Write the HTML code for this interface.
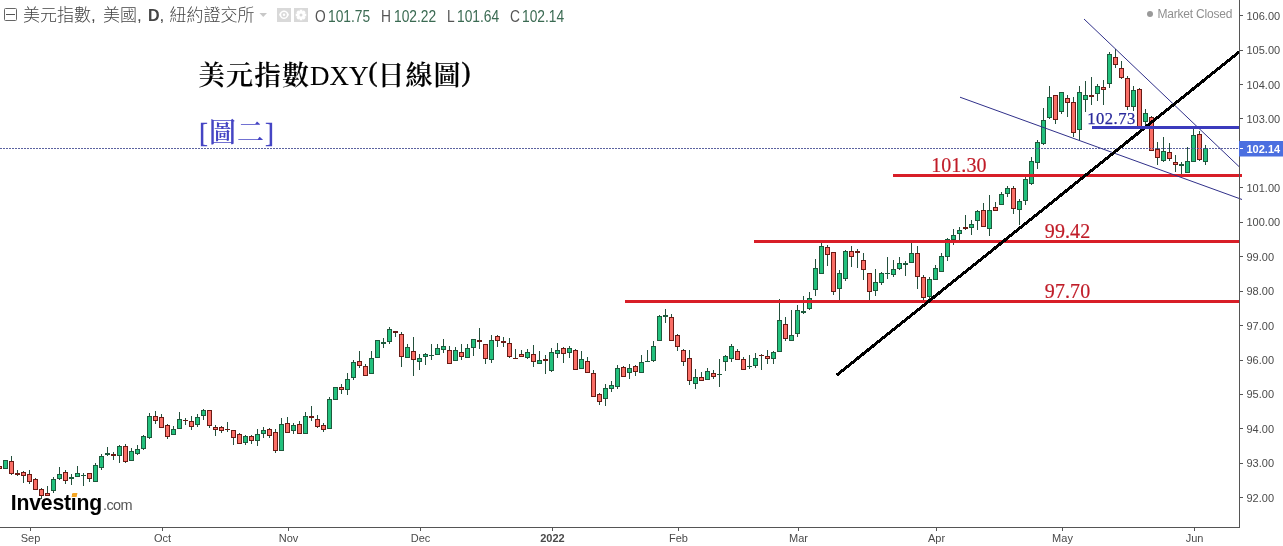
<!DOCTYPE html>
<html><head><meta charset="utf-8"><title>美元指數DXY(日線圖)</title>
<style>
html,body{margin:0;padding:0;background:#fff;}
body{width:1283px;height:546px;overflow:hidden;position:relative;font-family:"Liberation Sans","Noto Sans CJK TC","Noto Sans CJK SC",sans-serif;}
svg{position:absolute;left:0;top:0;}
.ax{font-family:"Liberation Sans",sans-serif;font-size:11px;fill:#4a4a4a;}
.t{position:absolute;white-space:nowrap;line-height:1;}
.hd{font-size:17px;color:#444;top:7px;font-weight:300;}
.oh{font-size:15.6px;color:#555;top:8.5px;transform-origin:0 0;transform:scaleX(0.885);}
.oh b{font-weight:normal;color:#3a6a52;}
.cj{letter-spacing:1px;font-weight:600;}
.pa{position:relative;top:-4.5px;-webkit-text-stroke:0.45px #000;}
.ser{font-family:"Liberation Serif","Noto Serif CJK TC","Noto Serif CJK SC",serif;}
</style></head><body>
<svg width="1283" height="546" viewBox="0 0 1283 546">
<g shape-rendering="crispEdges">
<rect x="-3" y="466" width="5" height="3" fill="#6a1a14"/>
<rect x="-2" y="467" width="3" height="1" fill="#fa6e66"/>
<rect x="3" y="460" width="5" height="9" fill="#1d5a3c"/>
<rect x="4" y="461" width="3" height="7" fill="#22c07d"/>
<rect x="11" y="456" width="1" height="19" fill="#24503c"/>
<rect x="9" y="461" width="5" height="13" fill="#6a1a14"/>
<rect x="10" y="462" width="3" height="11" fill="#fa6e66"/>
<rect x="17" y="470" width="1" height="6" fill="#24503c"/>
<rect x="15" y="473" width="5" height="2" fill="#6a1a14"/>
<rect x="23" y="471" width="1" height="12" fill="#24503c"/>
<rect x="21" y="472" width="5" height="4" fill="#6a1a14"/>
<rect x="22" y="473" width="3" height="2" fill="#fa6e66"/>
<rect x="29" y="470" width="1" height="14" fill="#24503c"/>
<rect x="27" y="474" width="5" height="8" fill="#6a1a14"/>
<rect x="28" y="475" width="3" height="6" fill="#fa6e66"/>
<rect x="35" y="478" width="1" height="12" fill="#24503c"/>
<rect x="33" y="479" width="5" height="11" fill="#6a1a14"/>
<rect x="34" y="480" width="3" height="9" fill="#fa6e66"/>
<rect x="41" y="488" width="1" height="11" fill="#24503c"/>
<rect x="39" y="489" width="5" height="7" fill="#6a1a14"/>
<rect x="40" y="490" width="3" height="5" fill="#fa6e66"/>
<rect x="47" y="486" width="1" height="10" fill="#24503c"/>
<rect x="45" y="493" width="5" height="3" fill="#6a1a14"/>
<rect x="46" y="494" width="3" height="1" fill="#fa6e66"/>
<rect x="53" y="477" width="1" height="16" fill="#24503c"/>
<rect x="51" y="479" width="5" height="12" fill="#1d5a3c"/>
<rect x="52" y="480" width="3" height="10" fill="#22c07d"/>
<rect x="59" y="467" width="1" height="13" fill="#24503c"/>
<rect x="57" y="474" width="5" height="5" fill="#1d5a3c"/>
<rect x="58" y="475" width="3" height="3" fill="#22c07d"/>
<rect x="65" y="470" width="1" height="14" fill="#24503c"/>
<rect x="63" y="472" width="5" height="9" fill="#6a1a14"/>
<rect x="64" y="473" width="3" height="7" fill="#fa6e66"/>
<rect x="71" y="474" width="1" height="11" fill="#24503c"/>
<rect x="69" y="477" width="5" height="2" fill="#1d5a3c"/>
<rect x="77" y="466" width="1" height="11" fill="#24503c"/>
<rect x="75" y="473" width="5" height="4" fill="#1d5a3c"/>
<rect x="76" y="474" width="3" height="2" fill="#22c07d"/>
<rect x="83" y="473" width="1" height="13" fill="#24503c"/>
<rect x="81" y="475" width="5" height="1" fill="#1d5a3c"/>
<rect x="89" y="473" width="1" height="9" fill="#24503c"/>
<rect x="87" y="473" width="5" height="6" fill="#6a1a14"/>
<rect x="88" y="474" width="3" height="4" fill="#fa6e66"/>
<rect x="95" y="463" width="1" height="19" fill="#24503c"/>
<rect x="93" y="465" width="5" height="17" fill="#1d5a3c"/>
<rect x="94" y="466" width="3" height="15" fill="#22c07d"/>
<rect x="101" y="454" width="1" height="16" fill="#24503c"/>
<rect x="99" y="456" width="5" height="12" fill="#1d5a3c"/>
<rect x="100" y="457" width="3" height="10" fill="#22c07d"/>
<rect x="107" y="447" width="1" height="9" fill="#24503c"/>
<rect x="105" y="453" width="5" height="2" fill="#1d5a3c"/>
<rect x="113" y="452" width="1" height="8" fill="#24503c"/>
<rect x="111" y="454" width="5" height="2" fill="#6a1a14"/>
<rect x="119" y="445" width="1" height="18" fill="#24503c"/>
<rect x="117" y="446" width="5" height="10" fill="#1d5a3c"/>
<rect x="118" y="447" width="3" height="8" fill="#22c07d"/>
<rect x="125" y="444" width="1" height="19" fill="#24503c"/>
<rect x="123" y="446" width="5" height="16" fill="#6a1a14"/>
<rect x="124" y="447" width="3" height="14" fill="#fa6e66"/>
<rect x="131" y="448" width="1" height="13" fill="#24503c"/>
<rect x="129" y="451" width="5" height="10" fill="#1d5a3c"/>
<rect x="130" y="452" width="3" height="8" fill="#22c07d"/>
<rect x="137" y="445" width="1" height="10" fill="#24503c"/>
<rect x="135" y="449" width="5" height="5" fill="#1d5a3c"/>
<rect x="136" y="450" width="3" height="3" fill="#22c07d"/>
<rect x="143" y="435" width="1" height="15" fill="#24503c"/>
<rect x="141" y="436" width="5" height="13" fill="#1d5a3c"/>
<rect x="142" y="437" width="3" height="11" fill="#22c07d"/>
<rect x="149" y="413" width="1" height="26" fill="#24503c"/>
<rect x="147" y="416" width="5" height="22" fill="#1d5a3c"/>
<rect x="148" y="417" width="3" height="20" fill="#22c07d"/>
<rect x="155" y="411" width="1" height="13" fill="#24503c"/>
<rect x="153" y="416" width="5" height="5" fill="#6a1a14"/>
<rect x="154" y="417" width="3" height="3" fill="#fa6e66"/>
<rect x="161" y="414" width="1" height="14" fill="#24503c"/>
<rect x="159" y="417" width="5" height="11" fill="#6a1a14"/>
<rect x="160" y="418" width="3" height="9" fill="#fa6e66"/>
<rect x="167" y="424" width="1" height="15" fill="#24503c"/>
<rect x="165" y="425" width="5" height="12" fill="#6a1a14"/>
<rect x="166" y="426" width="3" height="10" fill="#fa6e66"/>
<rect x="173" y="426" width="1" height="9" fill="#24503c"/>
<rect x="171" y="429" width="5" height="6" fill="#1d5a3c"/>
<rect x="172" y="430" width="3" height="4" fill="#22c07d"/>
<rect x="179" y="412" width="1" height="17" fill="#24503c"/>
<rect x="177" y="419" width="5" height="10" fill="#1d5a3c"/>
<rect x="178" y="420" width="3" height="8" fill="#22c07d"/>
<rect x="185" y="418" width="1" height="7" fill="#24503c"/>
<rect x="183" y="420" width="5" height="1" fill="#6a1a14"/>
<rect x="191" y="416" width="1" height="14" fill="#24503c"/>
<rect x="189" y="421" width="5" height="6" fill="#6a1a14"/>
<rect x="190" y="422" width="3" height="4" fill="#fa6e66"/>
<rect x="197" y="414" width="1" height="13" fill="#24503c"/>
<rect x="195" y="417" width="5" height="8" fill="#1d5a3c"/>
<rect x="196" y="418" width="3" height="6" fill="#22c07d"/>
<rect x="203" y="409" width="1" height="11" fill="#24503c"/>
<rect x="201" y="410" width="5" height="6" fill="#1d5a3c"/>
<rect x="202" y="411" width="3" height="4" fill="#22c07d"/>
<rect x="209" y="410" width="1" height="18" fill="#24503c"/>
<rect x="207" y="410" width="5" height="16" fill="#6a1a14"/>
<rect x="208" y="411" width="3" height="14" fill="#fa6e66"/>
<rect x="215" y="425" width="1" height="11" fill="#24503c"/>
<rect x="213" y="427" width="5" height="3" fill="#6a1a14"/>
<rect x="214" y="428" width="3" height="1" fill="#fa6e66"/>
<rect x="221" y="426" width="1" height="7" fill="#24503c"/>
<rect x="219" y="427" width="5" height="4" fill="#6a1a14"/>
<rect x="220" y="428" width="3" height="2" fill="#fa6e66"/>
<rect x="227" y="422" width="1" height="10" fill="#24503c"/>
<rect x="225" y="429" width="5" height="1" fill="#6a1a14"/>
<rect x="233" y="430" width="1" height="15" fill="#24503c"/>
<rect x="231" y="430" width="5" height="8" fill="#6a1a14"/>
<rect x="232" y="431" width="3" height="6" fill="#fa6e66"/>
<rect x="239" y="433" width="1" height="11" fill="#24503c"/>
<rect x="237" y="434" width="5" height="10" fill="#6a1a14"/>
<rect x="238" y="435" width="3" height="8" fill="#fa6e66"/>
<rect x="245" y="435" width="1" height="10" fill="#24503c"/>
<rect x="243" y="436" width="5" height="7" fill="#1d5a3c"/>
<rect x="244" y="437" width="3" height="5" fill="#22c07d"/>
<rect x="251" y="435" width="1" height="9" fill="#24503c"/>
<rect x="249" y="436" width="5" height="5" fill="#6a1a14"/>
<rect x="250" y="437" width="3" height="3" fill="#fa6e66"/>
<rect x="257" y="429" width="1" height="17" fill="#24503c"/>
<rect x="255" y="434" width="5" height="7" fill="#1d5a3c"/>
<rect x="256" y="435" width="3" height="5" fill="#22c07d"/>
<rect x="263" y="427" width="1" height="11" fill="#24503c"/>
<rect x="261" y="430" width="5" height="4" fill="#1d5a3c"/>
<rect x="262" y="431" width="3" height="2" fill="#22c07d"/>
<rect x="269" y="428" width="1" height="10" fill="#24503c"/>
<rect x="267" y="429" width="5" height="7" fill="#6a1a14"/>
<rect x="268" y="430" width="3" height="5" fill="#fa6e66"/>
<rect x="275" y="429" width="1" height="24" fill="#24503c"/>
<rect x="273" y="432" width="5" height="19" fill="#6a1a14"/>
<rect x="274" y="433" width="3" height="17" fill="#fa6e66"/>
<rect x="281" y="418" width="1" height="33" fill="#24503c"/>
<rect x="279" y="424" width="5" height="27" fill="#1d5a3c"/>
<rect x="280" y="425" width="3" height="25" fill="#22c07d"/>
<rect x="287" y="417" width="1" height="16" fill="#24503c"/>
<rect x="285" y="423" width="5" height="10" fill="#6a1a14"/>
<rect x="286" y="424" width="3" height="8" fill="#fa6e66"/>
<rect x="293" y="423" width="1" height="11" fill="#24503c"/>
<rect x="291" y="425" width="5" height="6" fill="#1d5a3c"/>
<rect x="292" y="426" width="3" height="4" fill="#22c07d"/>
<rect x="299" y="421" width="1" height="13" fill="#24503c"/>
<rect x="297" y="424" width="5" height="10" fill="#6a1a14"/>
<rect x="298" y="425" width="3" height="8" fill="#fa6e66"/>
<rect x="305" y="412" width="1" height="22" fill="#24503c"/>
<rect x="303" y="416" width="5" height="18" fill="#1d5a3c"/>
<rect x="304" y="417" width="3" height="16" fill="#22c07d"/>
<rect x="311" y="406" width="1" height="15" fill="#24503c"/>
<rect x="309" y="416" width="5" height="2" fill="#6a1a14"/>
<rect x="317" y="415" width="1" height="13" fill="#24503c"/>
<rect x="315" y="419" width="5" height="8" fill="#6a1a14"/>
<rect x="316" y="420" width="3" height="6" fill="#fa6e66"/>
<rect x="323" y="423" width="1" height="9" fill="#24503c"/>
<rect x="321" y="425" width="5" height="5" fill="#6a1a14"/>
<rect x="322" y="426" width="3" height="3" fill="#fa6e66"/>
<rect x="329" y="397" width="1" height="32" fill="#24503c"/>
<rect x="327" y="399" width="5" height="30" fill="#1d5a3c"/>
<rect x="328" y="400" width="3" height="28" fill="#22c07d"/>
<rect x="333" y="387" width="5" height="13" fill="#1d5a3c"/>
<rect x="334" y="388" width="3" height="11" fill="#22c07d"/>
<rect x="341" y="384" width="1" height="10" fill="#24503c"/>
<rect x="339" y="387" width="5" height="3" fill="#6a1a14"/>
<rect x="340" y="388" width="3" height="1" fill="#fa6e66"/>
<rect x="347" y="373" width="1" height="22" fill="#24503c"/>
<rect x="345" y="379" width="5" height="11" fill="#1d5a3c"/>
<rect x="346" y="380" width="3" height="9" fill="#22c07d"/>
<rect x="353" y="360" width="1" height="20" fill="#24503c"/>
<rect x="351" y="362" width="5" height="16" fill="#1d5a3c"/>
<rect x="352" y="363" width="3" height="14" fill="#22c07d"/>
<rect x="359" y="351" width="1" height="17" fill="#24503c"/>
<rect x="357" y="361" width="5" height="5" fill="#6a1a14"/>
<rect x="358" y="362" width="3" height="3" fill="#fa6e66"/>
<rect x="365" y="364" width="1" height="12" fill="#24503c"/>
<rect x="363" y="366" width="5" height="10" fill="#6a1a14"/>
<rect x="364" y="367" width="3" height="8" fill="#fa6e66"/>
<rect x="371" y="351" width="1" height="23" fill="#24503c"/>
<rect x="369" y="358" width="5" height="16" fill="#1d5a3c"/>
<rect x="370" y="359" width="3" height="14" fill="#22c07d"/>
<rect x="375" y="340" width="5" height="18" fill="#1d5a3c"/>
<rect x="376" y="341" width="3" height="16" fill="#22c07d"/>
<rect x="383" y="338" width="1" height="10" fill="#24503c"/>
<rect x="381" y="342" width="5" height="2" fill="#1d5a3c"/>
<rect x="389" y="327" width="1" height="17" fill="#24503c"/>
<rect x="387" y="329" width="5" height="13" fill="#1d5a3c"/>
<rect x="388" y="330" width="3" height="11" fill="#22c07d"/>
<rect x="395" y="331" width="1" height="6" fill="#24503c"/>
<rect x="393" y="331" width="5" height="2" fill="#6a1a14"/>
<rect x="401" y="332" width="1" height="35" fill="#24503c"/>
<rect x="399" y="334" width="5" height="23" fill="#6a1a14"/>
<rect x="400" y="335" width="3" height="21" fill="#fa6e66"/>
<rect x="407" y="344" width="1" height="14" fill="#24503c"/>
<rect x="405" y="347" width="5" height="11" fill="#1d5a3c"/>
<rect x="406" y="348" width="3" height="9" fill="#22c07d"/>
<rect x="413" y="337" width="1" height="39" fill="#24503c"/>
<rect x="411" y="351" width="5" height="9" fill="#6a1a14"/>
<rect x="412" y="352" width="3" height="7" fill="#fa6e66"/>
<rect x="419" y="354" width="1" height="16" fill="#24503c"/>
<rect x="417" y="358" width="5" height="4" fill="#1d5a3c"/>
<rect x="418" y="359" width="3" height="2" fill="#22c07d"/>
<rect x="425" y="353" width="1" height="12" fill="#24503c"/>
<rect x="423" y="354" width="5" height="3" fill="#1d5a3c"/>
<rect x="424" y="355" width="3" height="1" fill="#22c07d"/>
<rect x="431" y="344" width="1" height="16" fill="#24503c"/>
<rect x="429" y="355" width="5" height="1" fill="#1d5a3c"/>
<rect x="437" y="344" width="1" height="11" fill="#24503c"/>
<rect x="435" y="348" width="5" height="7" fill="#1d5a3c"/>
<rect x="436" y="349" width="3" height="5" fill="#22c07d"/>
<rect x="443" y="339" width="1" height="14" fill="#24503c"/>
<rect x="441" y="346" width="5" height="4" fill="#1d5a3c"/>
<rect x="442" y="347" width="3" height="2" fill="#22c07d"/>
<rect x="449" y="346" width="1" height="18" fill="#24503c"/>
<rect x="447" y="350" width="5" height="14" fill="#6a1a14"/>
<rect x="448" y="351" width="3" height="12" fill="#fa6e66"/>
<rect x="455" y="347" width="1" height="14" fill="#24503c"/>
<rect x="453" y="350" width="5" height="11" fill="#1d5a3c"/>
<rect x="454" y="351" width="3" height="9" fill="#22c07d"/>
<rect x="461" y="344" width="1" height="16" fill="#24503c"/>
<rect x="459" y="352" width="5" height="5" fill="#6a1a14"/>
<rect x="460" y="353" width="3" height="3" fill="#fa6e66"/>
<rect x="467" y="344" width="1" height="14" fill="#24503c"/>
<rect x="465" y="348" width="5" height="10" fill="#1d5a3c"/>
<rect x="466" y="349" width="3" height="8" fill="#22c07d"/>
<rect x="473" y="339" width="1" height="17" fill="#24503c"/>
<rect x="471" y="339" width="5" height="9" fill="#1d5a3c"/>
<rect x="472" y="340" width="3" height="7" fill="#22c07d"/>
<rect x="479" y="328" width="1" height="21" fill="#24503c"/>
<rect x="477" y="340" width="5" height="2" fill="#6a1a14"/>
<rect x="485" y="344" width="1" height="20" fill="#24503c"/>
<rect x="483" y="344" width="5" height="15" fill="#6a1a14"/>
<rect x="484" y="345" width="3" height="13" fill="#fa6e66"/>
<rect x="491" y="335" width="1" height="28" fill="#24503c"/>
<rect x="489" y="340" width="5" height="20" fill="#1d5a3c"/>
<rect x="490" y="341" width="3" height="18" fill="#22c07d"/>
<rect x="497" y="335" width="1" height="12" fill="#24503c"/>
<rect x="495" y="336" width="5" height="5" fill="#6a1a14"/>
<rect x="496" y="337" width="3" height="3" fill="#fa6e66"/>
<rect x="503" y="337" width="1" height="10" fill="#24503c"/>
<rect x="501" y="341" width="5" height="2" fill="#6a1a14"/>
<rect x="509" y="338" width="1" height="20" fill="#24503c"/>
<rect x="507" y="343" width="5" height="14" fill="#6a1a14"/>
<rect x="508" y="344" width="3" height="12" fill="#fa6e66"/>
<rect x="515" y="349" width="1" height="10" fill="#24503c"/>
<rect x="513" y="358" width="5" height="1" fill="#6a1a14"/>
<rect x="521" y="350" width="1" height="7" fill="#24503c"/>
<rect x="519" y="354" width="5" height="3" fill="#6a1a14"/>
<rect x="520" y="355" width="3" height="1" fill="#fa6e66"/>
<rect x="527" y="349" width="1" height="10" fill="#24503c"/>
<rect x="525" y="352" width="5" height="6" fill="#1d5a3c"/>
<rect x="526" y="353" width="3" height="4" fill="#22c07d"/>
<rect x="533" y="345" width="1" height="22" fill="#24503c"/>
<rect x="531" y="354" width="5" height="8" fill="#6a1a14"/>
<rect x="532" y="355" width="3" height="6" fill="#fa6e66"/>
<rect x="539" y="351" width="1" height="13" fill="#24503c"/>
<rect x="537" y="360" width="5" height="4" fill="#1d5a3c"/>
<rect x="538" y="361" width="3" height="2" fill="#22c07d"/>
<rect x="545" y="355" width="1" height="19" fill="#24503c"/>
<rect x="543" y="359" width="5" height="2" fill="#6a1a14"/>
<rect x="551" y="348" width="1" height="24" fill="#24503c"/>
<rect x="549" y="352" width="5" height="19" fill="#1d5a3c"/>
<rect x="550" y="353" width="3" height="17" fill="#22c07d"/>
<rect x="557" y="343" width="1" height="15" fill="#24503c"/>
<rect x="555" y="350" width="5" height="4" fill="#1d5a3c"/>
<rect x="556" y="351" width="3" height="2" fill="#22c07d"/>
<rect x="563" y="347" width="1" height="16" fill="#24503c"/>
<rect x="561" y="348" width="5" height="6" fill="#6a1a14"/>
<rect x="562" y="349" width="3" height="4" fill="#fa6e66"/>
<rect x="569" y="346" width="1" height="12" fill="#24503c"/>
<rect x="567" y="348" width="5" height="5" fill="#1d5a3c"/>
<rect x="568" y="349" width="3" height="3" fill="#22c07d"/>
<rect x="575" y="349" width="1" height="21" fill="#24503c"/>
<rect x="573" y="350" width="5" height="20" fill="#6a1a14"/>
<rect x="574" y="351" width="3" height="18" fill="#fa6e66"/>
<rect x="581" y="351" width="1" height="18" fill="#24503c"/>
<rect x="579" y="359" width="5" height="10" fill="#1d5a3c"/>
<rect x="580" y="360" width="3" height="8" fill="#22c07d"/>
<rect x="587" y="357" width="1" height="16" fill="#24503c"/>
<rect x="585" y="361" width="5" height="12" fill="#6a1a14"/>
<rect x="586" y="362" width="3" height="10" fill="#fa6e66"/>
<rect x="593" y="370" width="1" height="27" fill="#24503c"/>
<rect x="591" y="373" width="5" height="24" fill="#6a1a14"/>
<rect x="592" y="374" width="3" height="22" fill="#fa6e66"/>
<rect x="599" y="393" width="1" height="12" fill="#24503c"/>
<rect x="597" y="394" width="5" height="8" fill="#6a1a14"/>
<rect x="598" y="395" width="3" height="6" fill="#fa6e66"/>
<rect x="605" y="384" width="1" height="22" fill="#24503c"/>
<rect x="603" y="388" width="5" height="11" fill="#1d5a3c"/>
<rect x="604" y="389" width="3" height="9" fill="#22c07d"/>
<rect x="611" y="381" width="1" height="11" fill="#24503c"/>
<rect x="609" y="385" width="5" height="4" fill="#1d5a3c"/>
<rect x="610" y="386" width="3" height="2" fill="#22c07d"/>
<rect x="617" y="365" width="1" height="24" fill="#24503c"/>
<rect x="615" y="368" width="5" height="19" fill="#1d5a3c"/>
<rect x="616" y="369" width="3" height="17" fill="#22c07d"/>
<rect x="623" y="366" width="1" height="11" fill="#24503c"/>
<rect x="621" y="367" width="5" height="10" fill="#6a1a14"/>
<rect x="622" y="368" width="3" height="8" fill="#fa6e66"/>
<rect x="629" y="364" width="1" height="15" fill="#24503c"/>
<rect x="627" y="368" width="5" height="5" fill="#1d5a3c"/>
<rect x="628" y="369" width="3" height="3" fill="#22c07d"/>
<rect x="635" y="365" width="1" height="11" fill="#24503c"/>
<rect x="633" y="366" width="5" height="6" fill="#6a1a14"/>
<rect x="634" y="367" width="3" height="4" fill="#fa6e66"/>
<rect x="641" y="355" width="1" height="18" fill="#24503c"/>
<rect x="639" y="362" width="5" height="11" fill="#1d5a3c"/>
<rect x="640" y="363" width="3" height="9" fill="#22c07d"/>
<rect x="647" y="350" width="1" height="12" fill="#24503c"/>
<rect x="645" y="361" width="5" height="1" fill="#1d5a3c"/>
<rect x="653" y="341" width="1" height="21" fill="#24503c"/>
<rect x="651" y="346" width="5" height="15" fill="#1d5a3c"/>
<rect x="652" y="347" width="3" height="13" fill="#22c07d"/>
<rect x="659" y="315" width="1" height="26" fill="#24503c"/>
<rect x="657" y="316" width="5" height="25" fill="#1d5a3c"/>
<rect x="658" y="317" width="3" height="23" fill="#22c07d"/>
<rect x="665" y="309" width="1" height="14" fill="#24503c"/>
<rect x="663" y="315" width="5" height="2" fill="#1d5a3c"/>
<rect x="671" y="314" width="1" height="27" fill="#24503c"/>
<rect x="669" y="317" width="5" height="24" fill="#6a1a14"/>
<rect x="670" y="318" width="3" height="22" fill="#fa6e66"/>
<rect x="677" y="334" width="1" height="17" fill="#24503c"/>
<rect x="675" y="335" width="5" height="12" fill="#6a1a14"/>
<rect x="676" y="336" width="3" height="10" fill="#fa6e66"/>
<rect x="683" y="349" width="1" height="17" fill="#24503c"/>
<rect x="681" y="350" width="5" height="12" fill="#6a1a14"/>
<rect x="682" y="351" width="3" height="10" fill="#fa6e66"/>
<rect x="689" y="350" width="1" height="35" fill="#24503c"/>
<rect x="687" y="358" width="5" height="23" fill="#6a1a14"/>
<rect x="688" y="359" width="3" height="21" fill="#fa6e66"/>
<rect x="695" y="369" width="1" height="20" fill="#24503c"/>
<rect x="693" y="377" width="5" height="7" fill="#1d5a3c"/>
<rect x="694" y="378" width="3" height="5" fill="#22c07d"/>
<rect x="701" y="372" width="1" height="9" fill="#24503c"/>
<rect x="699" y="377" width="5" height="4" fill="#6a1a14"/>
<rect x="700" y="378" width="3" height="2" fill="#fa6e66"/>
<rect x="707" y="368" width="1" height="12" fill="#24503c"/>
<rect x="705" y="371" width="5" height="9" fill="#1d5a3c"/>
<rect x="706" y="372" width="3" height="7" fill="#22c07d"/>
<rect x="713" y="370" width="1" height="9" fill="#24503c"/>
<rect x="711" y="373" width="5" height="4" fill="#6a1a14"/>
<rect x="712" y="374" width="3" height="2" fill="#fa6e66"/>
<rect x="719" y="359" width="1" height="28" fill="#24503c"/>
<rect x="717" y="374" width="5" height="1" fill="#1d5a3c"/>
<rect x="725" y="355" width="1" height="16" fill="#24503c"/>
<rect x="723" y="356" width="5" height="6" fill="#1d5a3c"/>
<rect x="724" y="357" width="3" height="4" fill="#22c07d"/>
<rect x="731" y="344" width="1" height="18" fill="#24503c"/>
<rect x="729" y="346" width="5" height="13" fill="#1d5a3c"/>
<rect x="730" y="347" width="3" height="11" fill="#22c07d"/>
<rect x="737" y="349" width="1" height="11" fill="#24503c"/>
<rect x="735" y="351" width="5" height="9" fill="#6a1a14"/>
<rect x="736" y="352" width="3" height="7" fill="#fa6e66"/>
<rect x="743" y="357" width="1" height="13" fill="#24503c"/>
<rect x="741" y="359" width="5" height="11" fill="#6a1a14"/>
<rect x="742" y="360" width="3" height="9" fill="#fa6e66"/>
<rect x="749" y="355" width="1" height="14" fill="#24503c"/>
<rect x="747" y="366" width="5" height="1" fill="#1d5a3c"/>
<rect x="755" y="353" width="1" height="15" fill="#24503c"/>
<rect x="753" y="358" width="5" height="8" fill="#1d5a3c"/>
<rect x="754" y="359" width="3" height="6" fill="#22c07d"/>
<rect x="761" y="354" width="1" height="16" fill="#24503c"/>
<rect x="759" y="355" width="5" height="1" fill="#6a1a14"/>
<rect x="767" y="350" width="1" height="14" fill="#24503c"/>
<rect x="765" y="356" width="5" height="3" fill="#6a1a14"/>
<rect x="766" y="357" width="3" height="1" fill="#fa6e66"/>
<rect x="773" y="351" width="1" height="13" fill="#24503c"/>
<rect x="771" y="352" width="5" height="7" fill="#1d5a3c"/>
<rect x="772" y="353" width="3" height="5" fill="#22c07d"/>
<rect x="779" y="299" width="1" height="53" fill="#24503c"/>
<rect x="777" y="320" width="5" height="32" fill="#1d5a3c"/>
<rect x="778" y="321" width="3" height="30" fill="#22c07d"/>
<rect x="785" y="317" width="1" height="24" fill="#24503c"/>
<rect x="783" y="324" width="5" height="15" fill="#6a1a14"/>
<rect x="784" y="325" width="3" height="13" fill="#fa6e66"/>
<rect x="791" y="310" width="1" height="31" fill="#24503c"/>
<rect x="789" y="335" width="5" height="6" fill="#1d5a3c"/>
<rect x="790" y="336" width="3" height="4" fill="#22c07d"/>
<rect x="797" y="305" width="1" height="32" fill="#24503c"/>
<rect x="795" y="310" width="5" height="24" fill="#1d5a3c"/>
<rect x="796" y="311" width="3" height="22" fill="#22c07d"/>
<rect x="803" y="296" width="1" height="18" fill="#24503c"/>
<rect x="801" y="311" width="5" height="2" fill="#1d5a3c"/>
<rect x="809" y="292" width="1" height="18" fill="#24503c"/>
<rect x="807" y="298" width="5" height="11" fill="#1d5a3c"/>
<rect x="808" y="299" width="3" height="9" fill="#22c07d"/>
<rect x="815" y="259" width="1" height="37" fill="#24503c"/>
<rect x="813" y="268" width="5" height="22" fill="#1d5a3c"/>
<rect x="814" y="269" width="3" height="20" fill="#22c07d"/>
<rect x="821" y="243" width="1" height="31" fill="#24503c"/>
<rect x="819" y="246" width="5" height="28" fill="#1d5a3c"/>
<rect x="820" y="247" width="3" height="26" fill="#22c07d"/>
<rect x="827" y="245" width="1" height="21" fill="#24503c"/>
<rect x="825" y="247" width="5" height="8" fill="#6a1a14"/>
<rect x="826" y="248" width="3" height="6" fill="#fa6e66"/>
<rect x="833" y="252" width="1" height="43" fill="#24503c"/>
<rect x="831" y="252" width="5" height="40" fill="#6a1a14"/>
<rect x="832" y="253" width="3" height="38" fill="#fa6e66"/>
<rect x="839" y="270" width="1" height="30" fill="#24503c"/>
<rect x="837" y="273" width="5" height="16" fill="#1d5a3c"/>
<rect x="838" y="274" width="3" height="14" fill="#22c07d"/>
<rect x="845" y="250" width="1" height="31" fill="#24503c"/>
<rect x="843" y="251" width="5" height="28" fill="#1d5a3c"/>
<rect x="844" y="252" width="3" height="26" fill="#22c07d"/>
<rect x="851" y="246" width="1" height="21" fill="#24503c"/>
<rect x="849" y="251" width="5" height="6" fill="#6a1a14"/>
<rect x="850" y="252" width="3" height="4" fill="#fa6e66"/>
<rect x="857" y="249" width="1" height="19" fill="#24503c"/>
<rect x="855" y="251" width="5" height="2" fill="#6a1a14"/>
<rect x="863" y="253" width="1" height="27" fill="#24503c"/>
<rect x="861" y="260" width="5" height="10" fill="#6a1a14"/>
<rect x="862" y="261" width="3" height="8" fill="#fa6e66"/>
<rect x="869" y="273" width="1" height="27" fill="#24503c"/>
<rect x="867" y="273" width="5" height="19" fill="#6a1a14"/>
<rect x="868" y="274" width="3" height="17" fill="#fa6e66"/>
<rect x="875" y="269" width="1" height="27" fill="#24503c"/>
<rect x="873" y="282" width="5" height="9" fill="#1d5a3c"/>
<rect x="874" y="283" width="3" height="7" fill="#22c07d"/>
<rect x="881" y="272" width="1" height="13" fill="#24503c"/>
<rect x="879" y="273" width="5" height="10" fill="#1d5a3c"/>
<rect x="880" y="274" width="3" height="8" fill="#22c07d"/>
<rect x="887" y="257" width="1" height="22" fill="#24503c"/>
<rect x="885" y="273" width="5" height="1" fill="#1d5a3c"/>
<rect x="893" y="260" width="1" height="17" fill="#24503c"/>
<rect x="891" y="269" width="5" height="6" fill="#1d5a3c"/>
<rect x="892" y="270" width="3" height="4" fill="#22c07d"/>
<rect x="899" y="257" width="1" height="13" fill="#24503c"/>
<rect x="897" y="263" width="5" height="6" fill="#1d5a3c"/>
<rect x="898" y="264" width="3" height="4" fill="#22c07d"/>
<rect x="905" y="261" width="1" height="15" fill="#24503c"/>
<rect x="903" y="263" width="5" height="2" fill="#1d5a3c"/>
<rect x="911" y="243" width="1" height="20" fill="#24503c"/>
<rect x="909" y="253" width="5" height="10" fill="#1d5a3c"/>
<rect x="910" y="254" width="3" height="8" fill="#22c07d"/>
<rect x="917" y="246" width="1" height="43" fill="#24503c"/>
<rect x="915" y="253" width="5" height="24" fill="#6a1a14"/>
<rect x="916" y="254" width="3" height="22" fill="#fa6e66"/>
<rect x="923" y="275" width="1" height="25" fill="#24503c"/>
<rect x="921" y="277" width="5" height="21" fill="#6a1a14"/>
<rect x="922" y="278" width="3" height="19" fill="#fa6e66"/>
<rect x="929" y="277" width="1" height="22" fill="#24503c"/>
<rect x="927" y="279" width="5" height="18" fill="#1d5a3c"/>
<rect x="928" y="280" width="3" height="16" fill="#22c07d"/>
<rect x="935" y="265" width="1" height="15" fill="#24503c"/>
<rect x="933" y="268" width="5" height="12" fill="#1d5a3c"/>
<rect x="934" y="269" width="3" height="10" fill="#22c07d"/>
<rect x="941" y="253" width="1" height="19" fill="#24503c"/>
<rect x="939" y="256" width="5" height="16" fill="#1d5a3c"/>
<rect x="940" y="257" width="3" height="14" fill="#22c07d"/>
<rect x="947" y="238" width="1" height="23" fill="#24503c"/>
<rect x="945" y="239" width="5" height="18" fill="#1d5a3c"/>
<rect x="946" y="240" width="3" height="16" fill="#22c07d"/>
<rect x="953" y="229" width="1" height="16" fill="#24503c"/>
<rect x="951" y="235" width="5" height="5" fill="#1d5a3c"/>
<rect x="952" y="236" width="3" height="3" fill="#22c07d"/>
<rect x="959" y="227" width="1" height="13" fill="#24503c"/>
<rect x="957" y="230" width="5" height="4" fill="#1d5a3c"/>
<rect x="958" y="231" width="3" height="2" fill="#22c07d"/>
<rect x="965" y="215" width="1" height="15" fill="#24503c"/>
<rect x="963" y="227" width="5" height="2" fill="#6a1a14"/>
<rect x="971" y="220" width="1" height="15" fill="#24503c"/>
<rect x="969" y="224" width="5" height="4" fill="#1d5a3c"/>
<rect x="970" y="225" width="3" height="2" fill="#22c07d"/>
<rect x="977" y="210" width="1" height="20" fill="#24503c"/>
<rect x="975" y="211" width="5" height="10" fill="#1d5a3c"/>
<rect x="976" y="212" width="3" height="8" fill="#22c07d"/>
<rect x="983" y="203" width="1" height="24" fill="#24503c"/>
<rect x="981" y="210" width="5" height="17" fill="#6a1a14"/>
<rect x="982" y="211" width="3" height="15" fill="#fa6e66"/>
<rect x="989" y="195" width="1" height="41" fill="#24503c"/>
<rect x="987" y="210" width="5" height="19" fill="#1d5a3c"/>
<rect x="988" y="211" width="3" height="17" fill="#22c07d"/>
<rect x="995" y="202" width="1" height="9" fill="#24503c"/>
<rect x="993" y="207" width="5" height="4" fill="#6a1a14"/>
<rect x="994" y="208" width="3" height="2" fill="#fa6e66"/>
<rect x="1001" y="192" width="1" height="13" fill="#24503c"/>
<rect x="999" y="194" width="5" height="11" fill="#1d5a3c"/>
<rect x="1000" y="195" width="3" height="9" fill="#22c07d"/>
<rect x="1007" y="186" width="1" height="11" fill="#24503c"/>
<rect x="1005" y="188" width="5" height="6" fill="#1d5a3c"/>
<rect x="1006" y="189" width="3" height="4" fill="#22c07d"/>
<rect x="1013" y="186" width="1" height="28" fill="#24503c"/>
<rect x="1011" y="188" width="5" height="21" fill="#6a1a14"/>
<rect x="1012" y="189" width="3" height="19" fill="#fa6e66"/>
<rect x="1019" y="199" width="1" height="26" fill="#24503c"/>
<rect x="1017" y="201" width="5" height="9" fill="#1d5a3c"/>
<rect x="1018" y="202" width="3" height="7" fill="#22c07d"/>
<rect x="1025" y="177" width="1" height="28" fill="#24503c"/>
<rect x="1023" y="179" width="5" height="22" fill="#1d5a3c"/>
<rect x="1024" y="180" width="3" height="20" fill="#22c07d"/>
<rect x="1031" y="157" width="1" height="28" fill="#24503c"/>
<rect x="1029" y="161" width="5" height="23" fill="#1d5a3c"/>
<rect x="1030" y="162" width="3" height="21" fill="#22c07d"/>
<rect x="1037" y="140" width="1" height="29" fill="#24503c"/>
<rect x="1035" y="142" width="5" height="21" fill="#1d5a3c"/>
<rect x="1036" y="143" width="3" height="19" fill="#22c07d"/>
<rect x="1043" y="108" width="1" height="37" fill="#24503c"/>
<rect x="1041" y="120" width="5" height="24" fill="#1d5a3c"/>
<rect x="1042" y="121" width="3" height="22" fill="#22c07d"/>
<rect x="1049" y="86" width="1" height="33" fill="#24503c"/>
<rect x="1047" y="97" width="5" height="21" fill="#1d5a3c"/>
<rect x="1048" y="98" width="3" height="19" fill="#22c07d"/>
<rect x="1055" y="95" width="1" height="29" fill="#24503c"/>
<rect x="1053" y="95" width="5" height="25" fill="#6a1a14"/>
<rect x="1054" y="96" width="3" height="23" fill="#fa6e66"/>
<rect x="1061" y="92" width="1" height="22" fill="#24503c"/>
<rect x="1059" y="92" width="5" height="20" fill="#1d5a3c"/>
<rect x="1060" y="93" width="3" height="18" fill="#22c07d"/>
<rect x="1067" y="95" width="1" height="22" fill="#24503c"/>
<rect x="1065" y="98" width="5" height="5" fill="#6a1a14"/>
<rect x="1066" y="99" width="3" height="3" fill="#fa6e66"/>
<rect x="1073" y="97" width="1" height="40" fill="#24503c"/>
<rect x="1071" y="102" width="5" height="31" fill="#6a1a14"/>
<rect x="1072" y="103" width="3" height="29" fill="#fa6e66"/>
<rect x="1079" y="86" width="1" height="54" fill="#24503c"/>
<rect x="1077" y="92" width="5" height="38" fill="#1d5a3c"/>
<rect x="1078" y="93" width="3" height="36" fill="#22c07d"/>
<rect x="1085" y="81" width="1" height="31" fill="#24503c"/>
<rect x="1083" y="95" width="5" height="5" fill="#1d5a3c"/>
<rect x="1084" y="96" width="3" height="3" fill="#22c07d"/>
<rect x="1091" y="77" width="1" height="28" fill="#24503c"/>
<rect x="1089" y="95" width="5" height="2" fill="#6a1a14"/>
<rect x="1097" y="84" width="1" height="17" fill="#24503c"/>
<rect x="1095" y="86" width="5" height="8" fill="#1d5a3c"/>
<rect x="1096" y="87" width="3" height="6" fill="#22c07d"/>
<rect x="1103" y="80" width="1" height="25" fill="#24503c"/>
<rect x="1101" y="87" width="5" height="3" fill="#6a1a14"/>
<rect x="1102" y="88" width="3" height="1" fill="#fa6e66"/>
<rect x="1109" y="52" width="1" height="36" fill="#24503c"/>
<rect x="1107" y="54" width="5" height="30" fill="#1d5a3c"/>
<rect x="1108" y="55" width="3" height="28" fill="#22c07d"/>
<rect x="1115" y="49" width="1" height="19" fill="#24503c"/>
<rect x="1113" y="57" width="5" height="8" fill="#6a1a14"/>
<rect x="1114" y="58" width="3" height="6" fill="#fa6e66"/>
<rect x="1121" y="61" width="1" height="18" fill="#24503c"/>
<rect x="1119" y="68" width="5" height="10" fill="#6a1a14"/>
<rect x="1120" y="69" width="3" height="8" fill="#fa6e66"/>
<rect x="1127" y="76" width="1" height="34" fill="#24503c"/>
<rect x="1125" y="78" width="5" height="29" fill="#6a1a14"/>
<rect x="1126" y="79" width="3" height="27" fill="#fa6e66"/>
<rect x="1133" y="86" width="1" height="25" fill="#24503c"/>
<rect x="1131" y="90" width="5" height="17" fill="#1d5a3c"/>
<rect x="1132" y="91" width="3" height="15" fill="#22c07d"/>
<rect x="1139" y="88" width="1" height="39" fill="#24503c"/>
<rect x="1137" y="89" width="5" height="38" fill="#6a1a14"/>
<rect x="1138" y="90" width="3" height="36" fill="#fa6e66"/>
<rect x="1145" y="109" width="1" height="16" fill="#24503c"/>
<rect x="1143" y="113" width="5" height="9" fill="#1d5a3c"/>
<rect x="1144" y="114" width="3" height="7" fill="#22c07d"/>
<rect x="1151" y="116" width="1" height="35" fill="#24503c"/>
<rect x="1149" y="117" width="5" height="34" fill="#6a1a14"/>
<rect x="1150" y="118" width="3" height="32" fill="#fa6e66"/>
<rect x="1157" y="142" width="1" height="23" fill="#24503c"/>
<rect x="1155" y="149" width="5" height="9" fill="#6a1a14"/>
<rect x="1156" y="150" width="3" height="7" fill="#fa6e66"/>
<rect x="1163" y="137" width="1" height="25" fill="#24503c"/>
<rect x="1161" y="151" width="5" height="10" fill="#1d5a3c"/>
<rect x="1162" y="152" width="3" height="8" fill="#22c07d"/>
<rect x="1169" y="143" width="1" height="18" fill="#24503c"/>
<rect x="1167" y="152" width="5" height="7" fill="#6a1a14"/>
<rect x="1168" y="153" width="3" height="5" fill="#fa6e66"/>
<rect x="1175" y="155" width="1" height="17" fill="#24503c"/>
<rect x="1173" y="162" width="5" height="3" fill="#6a1a14"/>
<rect x="1174" y="163" width="3" height="1" fill="#fa6e66"/>
<rect x="1181" y="162" width="1" height="13" fill="#24503c"/>
<rect x="1179" y="164" width="5" height="2" fill="#1d5a3c"/>
<rect x="1187" y="147" width="1" height="26" fill="#24503c"/>
<rect x="1185" y="161" width="5" height="12" fill="#1d5a3c"/>
<rect x="1186" y="162" width="3" height="10" fill="#22c07d"/>
<rect x="1193" y="129" width="1" height="33" fill="#24503c"/>
<rect x="1191" y="135" width="5" height="27" fill="#1d5a3c"/>
<rect x="1192" y="136" width="3" height="25" fill="#22c07d"/>
<rect x="1199" y="131" width="1" height="30" fill="#24503c"/>
<rect x="1197" y="134" width="5" height="26" fill="#6a1a14"/>
<rect x="1198" y="135" width="3" height="24" fill="#fa6e66"/>
<rect x="1205" y="145" width="1" height="20" fill="#24503c"/>
<rect x="1203" y="148" width="5" height="14" fill="#1d5a3c"/>
<rect x="1204" y="149" width="3" height="12" fill="#22c07d"/>
</g>
<g shape-rendering="crispEdges">
<!-- dotted current price line -->
<line x1="0" y1="148.5" x2="1239" y2="148.5" stroke="#4a5296" stroke-width="1" stroke-dasharray="2 1" opacity="0.9"/>
</g>
<g shape-rendering="crispEdges">
<!-- horizontal levels -->
<rect x="625" y="300" width="615" height="3" fill="#d81e28"/>
<rect x="754" y="240" width="486" height="3" fill="#d81e28"/>
<rect x="893" y="174" width="349" height="3" fill="#d81e28"/>
<!-- channel lines -->
<line x1="1084" y1="19" x2="1240" y2="167.5" stroke="#30308a" stroke-width="1" shape-rendering="auto"/>
<line x1="960" y1="97.2" x2="1242" y2="199.5" stroke="#30308a" stroke-width="1" shape-rendering="auto"/>
<line x1="836.5" y1="375.3" x2="1239.5" y2="51.7" stroke="#000" stroke-width="3"/>
<rect x="1092" y="126" width="148" height="3" fill="#3b3bbd"/>
</g>
<g shape-rendering="crispEdges">
<rect x="0" y="527" width="1240" height="1" fill="#555"/>
<rect x="1239" y="0" width="1" height="528" fill="#555"/>
</g>
<rect x="1240" y="497" width="3" height="1" fill="#555"/>
<text x="1246.5" y="501.7" class="ax">92.00</text>
<rect x="1240" y="463" width="3" height="1" fill="#555"/>
<text x="1246.5" y="467.3" class="ax">93.00</text>
<rect x="1240" y="428" width="3" height="1" fill="#555"/>
<text x="1246.5" y="432.9" class="ax">94.00</text>
<rect x="1240" y="394" width="3" height="1" fill="#555"/>
<text x="1246.5" y="398.4" class="ax">95.00</text>
<rect x="1240" y="360" width="3" height="1" fill="#555"/>
<text x="1246.5" y="364.0" class="ax">96.00</text>
<rect x="1240" y="325" width="3" height="1" fill="#555"/>
<text x="1246.5" y="329.6" class="ax">97.00</text>
<rect x="1240" y="291" width="3" height="1" fill="#555"/>
<text x="1246.5" y="295.1" class="ax">98.00</text>
<rect x="1240" y="256" width="3" height="1" fill="#555"/>
<text x="1246.5" y="260.7" class="ax">99.00</text>
<rect x="1240" y="222" width="3" height="1" fill="#555"/>
<text x="1246.5" y="226.3" class="ax">100.00</text>
<rect x="1240" y="187" width="3" height="1" fill="#555"/>
<text x="1246.5" y="191.8" class="ax">101.00</text>
<rect x="1240" y="118" width="3" height="1" fill="#555"/>
<text x="1246.5" y="123.0" class="ax">103.00</text>
<rect x="1240" y="84" width="3" height="1" fill="#555"/>
<text x="1246.5" y="88.6" class="ax">104.00</text>
<rect x="1240" y="50" width="3" height="1" fill="#555"/>
<text x="1246.5" y="54.1" class="ax">105.00</text>
<rect x="1240" y="15" width="3" height="1" fill="#555"/>
<text x="1246.5" y="19.7" class="ax">106.00</text>
<rect x="30" y="528" width="1" height="3" fill="#555"/>
<text x="30.5" y="541.5" text-anchor="middle" class="ax">Sep</text>
<rect x="162" y="528" width="1" height="3" fill="#555"/>
<text x="162.5" y="541.5" text-anchor="middle" class="ax">Oct</text>
<rect x="288" y="528" width="1" height="3" fill="#555"/>
<text x="288.5" y="541.5" text-anchor="middle" class="ax">Nov</text>
<rect x="420" y="528" width="1" height="3" fill="#555"/>
<text x="420.5" y="541.5" text-anchor="middle" class="ax">Dec</text>
<rect x="552" y="528" width="1" height="3" fill="#555"/>
<text x="552.5" y="541.5" text-anchor="middle" class="ax" font-weight="bold">2022</text>
<rect x="678" y="528" width="1" height="3" fill="#555"/>
<text x="678.5" y="541.5" text-anchor="middle" class="ax">Feb</text>
<rect x="798" y="528" width="1" height="3" fill="#555"/>
<text x="798.5" y="541.5" text-anchor="middle" class="ax">Mar</text>
<rect x="936" y="528" width="1" height="3" fill="#555"/>
<text x="936.5" y="541.5" text-anchor="middle" class="ax">Apr</text>
<rect x="1062" y="528" width="1" height="3" fill="#555"/>
<text x="1062.5" y="541.5" text-anchor="middle" class="ax">May</text>
<rect x="1194" y="528" width="1" height="3" fill="#555"/>
<text x="1194.5" y="541.5" text-anchor="middle" class="ax">Jun</text>
<rect x="1239" y="141" width="44" height="15.5" fill="#4b6fe0"/>
<rect x="1240" y="148" width="3" height="1" fill="#fff"/>
<text x="1246.5" y="152.6" font-family="Liberation Sans,sans-serif" font-size="11px" font-weight="bold" fill="#fff">102.14</text>
<!-- collapse icon -->
<rect x="4.5" y="8.5" width="12" height="12" rx="1" fill="none" stroke="#666" stroke-width="1"/>
<rect x="6" y="14" width="9" height="1" fill="#555"/>
<path d="M259.5 13h7.5l-3.75 4z" fill="#c8c8c8"/>
<rect x="277" y="8" width="14" height="14" fill="#d9d9d9"/>
<path d="M279 14.8C281.5 9.2 286.5 9.2 289 14.8C286.5 20.4 281.5 20.4 279 14.8z" fill="#fff"/>
<circle cx="284" cy="14.8" r="2.8" fill="#d9d9d9"/><circle cx="284" cy="14.8" r="1.25" fill="#fff"/>
<rect x="294" y="8" width="14" height="14" fill="#d9d9d9"/>
<g transform="translate(301 15)" fill="#fff">
<circle r="4"/>
<rect x="-1.35" y="-5.3" width="2.7" height="10.6"/>
<rect x="-1.35" y="-5.3" width="2.7" height="10.6" transform="rotate(45)"/>
<rect x="-1.35" y="-5.3" width="2.7" height="10.6" transform="rotate(90)"/>
<rect x="-1.35" y="-5.3" width="2.7" height="10.6" transform="rotate(135)"/>
<circle r="1.5" fill="#d9d9d9"/>
</g>
<circle cx="1150" cy="14" r="3" fill="#999"/>
</svg>
<div class="t hd" style="left:23px">美元指數,</div>
<div class="t hd" style="left:103px">美國,</div>
<div class="t hd" style="left:148px"><span style="font-weight:bold;font-size:16px">D</span>,</div>
<div class="t hd" style="left:169.5px">紐約證交所</div>
<div class="t oh" style="left:314.5px">O</div><div class="t oh" style="left:327.5px"><b>101.75</b></div>
<div class="t oh" style="left:380.5px">H</div><div class="t oh" style="left:394px"><b>102.22</b></div>
<div class="t oh" style="left:446.5px">L</div><div class="t oh" style="left:457px"><b>101.64</b></div>
<div class="t oh" style="left:509.5px">C</div><div class="t oh" style="left:521.6px"><b>102.14</b></div>
<div class="t" style="left:1157.5px;top:8px;font-size:12px;color:#8f8f8f;letter-spacing:-0.2px">Market Closed</div>
<div class="t ser" style="left:198px;top:63.1px;font-size:27px;color:#000;-webkit-text-stroke:0.1px #000"><span class="cj">美元指數</span>DXY<span class="pa">(</span><span class="cj">日線圖</span><span class="pa">)</span></div>
<div class="t ser" style="left:199px;top:119.7px;font-size:27px;color:#4545c4;letter-spacing:1px;-webkit-text-stroke:0.3px #4545c4"><span style="font-weight:normal">[</span><span style="font-weight:600;-webkit-text-stroke:0">圖二</span><span style="font-weight:normal">]</span></div>
<div class="t ser" style="left:931.2px;top:155.2px;font-size:20px;letter-spacing:0.05px;color:#c01c28;-webkit-text-stroke:0.2px #c01c28">101.30</div>
<div class="t ser" style="left:1044.8px;top:221.2px;font-size:20px;letter-spacing:0.1px;color:#c01c28;-webkit-text-stroke:0.2px #c01c28">99.42</div>
<div class="t ser" style="left:1044.8px;top:280.5px;font-size:20px;letter-spacing:0.1px;color:#c01c28;-webkit-text-stroke:0.2px #c01c28">97.70</div>
<div class="t ser" style="left:1087.2px;top:111.1px;font-size:16.6px;letter-spacing:0.5px;color:#2a2a9c;-webkit-text-stroke:0.25px #2a2a9c">102.73</div>
<div class="t" style="left:10.8px;top:492px;font-size:21.2px;font-weight:bold;color:#000;letter-spacing:-0.2px">Investing<span style="font-weight:normal;font-size:14.5px;color:#555;letter-spacing:-0.6px;margin-left:1px">.com</span></div>
<div style="position:absolute;left:71.6px;top:493.4px;width:4.8px;height:4.2px;background:#f5a623;transform:skewX(-12deg)"></div>
</body></html>
